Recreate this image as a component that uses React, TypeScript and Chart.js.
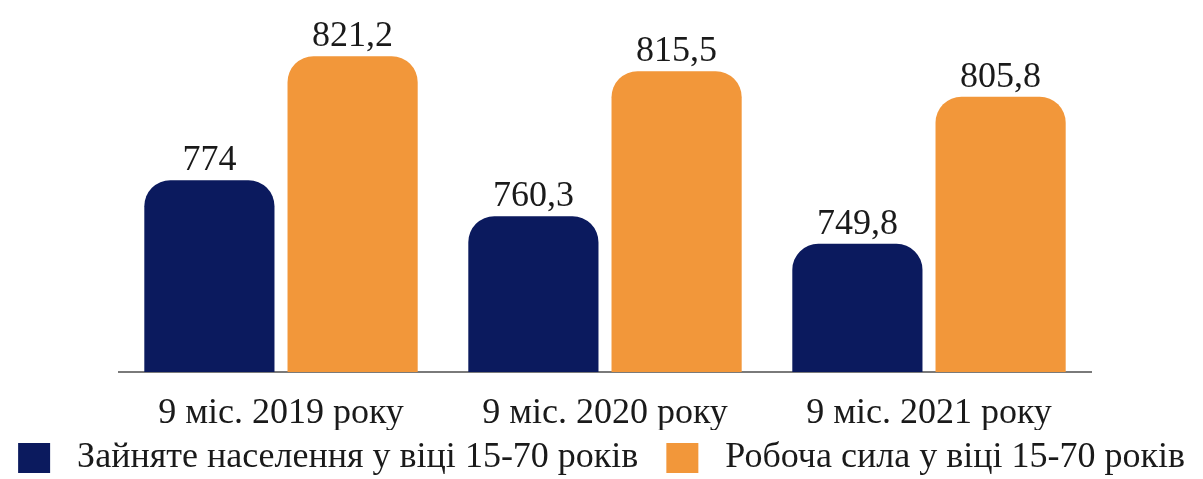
import React, { useEffect, useRef } from "react";
import { Chart, registerables } from "chart.js";

Chart.register(...registerables);

const categories = ["9 міс. 2019 року", "9 міс. 2020 року", "9 міс. 2021 року"];
const employed = [774, 760.3, 749.8];
const laborForce = [821.2, 815.5, 805.8];
const seriesNames = ["Зайняте населення у віці 15-70 років", "Робоча сила у віці 15-70 років"];

const NAVY = "#0b1a5e";
const ORANGE = "#f2973a";
const FONT = "'Liberation Serif', 'Times New Roman', serif";

const valueLabels = {
  id: "valueLabels",
  afterDatasetsDraw(chart: any) {
    const ctx = chart.ctx;
    ctx.save();
    ctx.font = `36px ${FONT}`;
    ctx.fillStyle = "#1a1a1a";
    ctx.textAlign = "center";
    ctx.textBaseline = "alphabetic";
    chart.data.datasets.forEach((ds: any, i: number) => {
      const meta = chart.getDatasetMeta(i);
      meta.data.forEach((el: any, j: number) => {
        const v = ds.data[j];
        const txt = String(v).replace(".", ",");
        ctx.fillText(txt, el.x, el.y - 10);
      });
    });
    ctx.restore();
  },
};

export default function App() {
  const ref = useRef<HTMLCanvasElement>(null);
  useEffect(() => {
    document.body.style.margin = "0";
    const chart = new Chart(ref.current!, {
      type: "bar",
      data: {
        labels: categories,
        datasets: [
          {
            label: seriesNames[0],
            data: employed,
            backgroundColor: NAVY,
            borderRadius: { topLeft: 26, topRight: 26, bottomLeft: 0, bottomRight: 0 },
            borderSkipped: false,
          },
          {
            label: seriesNames[1],
            data: laborForce,
            backgroundColor: ORANGE,
            borderRadius: { topLeft: 26, topRight: 26, bottomLeft: 0, bottomRight: 0 },
            borderSkipped: false,
          },
        ],
      },
      plugins: [valueLabels],
      options: {
        animation: false,
        responsive: false,
        maintainAspectRatio: false,
        layout: { padding: { left: -20, right: -20, top: 0, bottom: -7 } },
        datasets: {
          bar: { categoryPercentage: 0.884, barPercentage: 0.909 },
        },
        scales: {
          x: {
            grid: { display: false },
            border: { display: true, color: "#7a7a7a", width: 2 },
            ticks: {
              color: "#1a1a1a",
              font: { family: FONT, size: 36 },
              padding: 12,
            },
            afterFit: (s: any) => {
              s.height = 58;
            },
          },
          y: {
            display: true,
            min: 701,
            max: 842.6,
            grid: { display: false },
            border: { display: false },
            ticks: { display: false },
            afterFit: (s: any) => {
              s.width = 139;
            },
          },
          y2: {
            position: "right",
            display: true,
            grid: { display: false },
            border: { display: false },
            ticks: { display: false },
            afterFit: (s: any) => {
              s.width = 132;
            },
          },
        },
        plugins: {
          legend: {
            position: "bottom",
            labels: {
              color: "#1a1a1a",
              font: { family: FONT, size: 36 },
              boxWidth: 32,
              boxHeight: 30,
              padding: 10,
              generateLabels: (chart: any) => {
                const items = Chart.defaults.plugins.legend.labels.generateLabels(chart);
                return items.map((it: any, i: number) => ({
                  ...it,
                  text: " " + it.text + (i === 0 ? "  " : ""),
                  lineWidth: 0,
                }));
              },
            },
          },
          tooltip: { enabled: false },
        },
      },
    });
    return () => chart.destroy();
  }, []);
  return (
    <div style={{ position: "fixed", left: 0, top: 0, width: 1203, height: 479, background: "#fff" }}>
      <canvas ref={ref} width={1203} height={479} style={{ width: 1203, height: 479 }} />
    </div>
  );
}
